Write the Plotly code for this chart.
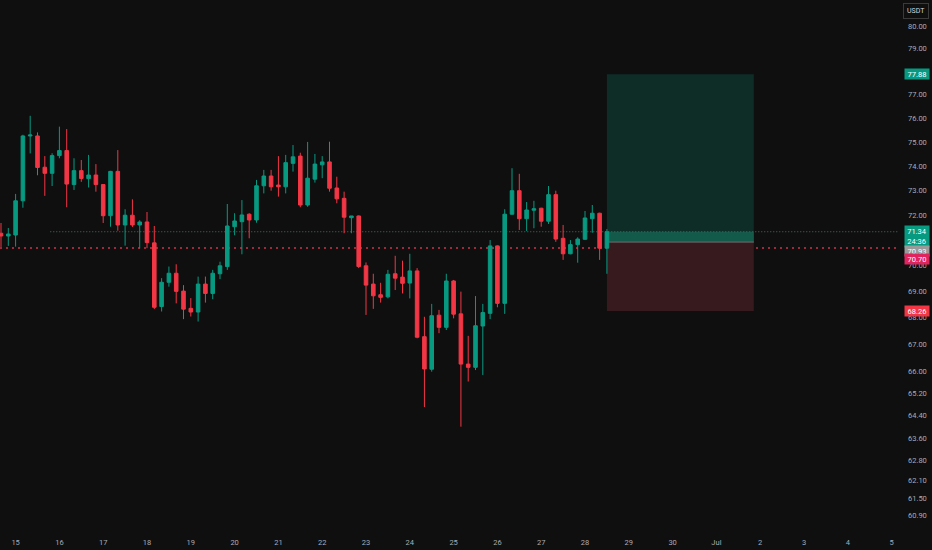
import numpy as np
import pandas as pd
import plotly.graph_objects as go

# 4h candles, 14 Jun 16:00 -> 28 Jun 12:00
times = pd.date_range("2024-06-14 16:00", periods=84, freq="4h")

opens = [71.28, 71.17, 71.21, 72.58, 75.25, 75.25, 73.95, 73.70, 74.43, 74.64,
         73.24, 73.81, 73.48, 73.63, 73.24, 71.98, 73.78, 71.61, 72.00, 71.61,
         71.73, 70.90, 68.43, 69.36, 69.71, 69.02, 68.36, 68.22, 69.29, 68.93,
         69.69, 69.97, 71.54, 71.74, 72.04, 71.81, 73.19, 73.59, 73.22, 73.15,
         74.11, 74.41, 72.41, 73.46, 74.05, 74.17, 73.10, 72.68, 71.90, 71.97,
         70.00, 69.29, 68.88, 68.80, 69.69, 69.56, 69.33, 69.80, 67.29, 66.08,
         68.10, 67.64, 69.41, 68.15, 66.27, 66.15, 67.69, 68.17, 70.78, 68.55,
         72.04, 72.99, 71.86, 72.20, 72.28, 71.76, 72.83, 71.08, 70.47, 70.83,
         71.04, 71.86, 72.08, 70.69]
highs = [71.69, 71.49, 72.86, 75.30, 76.10, 75.40, 74.41, 74.53, 75.64, 75.54,
         74.32, 74.25, 74.46, 74.08, 73.25, 73.80, 74.66, 72.24, 72.64, 71.80,
         72.13, 71.57, 69.52, 69.97, 70.06, 69.25, 68.75, 69.58, 69.58, 69.84,
         70.16, 72.45, 72.08, 72.61, 72.08, 73.43, 73.84, 73.84, 74.41, 74.46,
         74.87, 74.55, 75.00, 74.50, 74.41, 75.01, 73.56, 72.95, 71.97, 71.99,
         70.13, 69.69, 69.34, 69.84, 70.39, 70.20, 70.47, 69.91, 68.04, 68.53,
         68.30, 69.69, 69.45, 69.00, 67.32, 68.83, 68.53, 71.01, 70.80, 72.24,
         73.91, 73.68, 72.53, 72.58, 72.30, 73.18, 72.99, 71.61, 71.01, 71.12,
         72.17, 72.41, 72.10, 71.45]
lows = [70.74, 70.78, 70.75, 72.30, 74.52, 73.62, 72.78, 73.18, 74.32, 72.32,
        73.02, 73.35, 73.12, 72.95, 71.69, 71.54, 71.38, 70.79, 71.53, 70.68,
        70.69, 68.33, 68.24, 69.19, 68.55, 67.95, 68.05, 67.86, 68.58, 68.71,
        69.48, 69.84, 71.20, 70.45, 71.08, 71.70, 72.88, 72.99, 72.75, 72.88,
        73.77, 72.32, 72.34, 73.32, 73.50, 72.95, 72.48, 71.28, 71.28, 69.91,
        68.11, 68.34, 68.58, 68.74, 69.06, 68.93, 68.74, 67.23, 64.70, 65.99,
        67.42, 67.54, 67.98, 64.00, 65.63, 66.05, 65.87, 67.95, 68.40, 68.15,
        72.02, 71.41, 71.37, 71.48, 71.54, 71.65, 70.94, 70.23, 70.45, 70.12,
        71.01, 71.30, 70.23, 69.69]
closes = [71.17, 71.25, 72.58, 75.25, 75.29, 73.94, 73.70, 74.43, 74.64, 73.26,
          73.81, 73.49, 73.63, 73.24, 71.98, 73.78, 71.61, 72.00, 71.61, 71.73,
          70.91, 68.40, 69.36, 69.71, 69.01, 68.33, 68.22, 69.29, 68.93, 69.71,
          70.00, 71.57, 71.77, 72.01, 71.81, 73.19, 73.59, 73.15, 73.15, 74.14,
          74.38, 72.41, 73.50, 74.08, 74.17, 73.09, 72.66, 71.92, 71.97, 69.97,
          69.25, 68.84, 68.78, 69.67, 69.52, 69.32, 69.80, 67.27, 66.09, 68.08,
          67.64, 69.41, 68.14, 66.27, 66.15, 67.70, 68.20, 70.78, 68.55, 72.04,
          72.99, 71.86, 72.21, 72.26, 71.76, 72.83, 71.05, 70.47, 70.83, 71.05,
          71.89, 72.08, 70.69, 71.34]

# long position tool
entry_price = 70.93
target_price = 77.88
stop_price = 68.26
last_price = 71.34
alert_price = 70.70
box_start = "2024-06-28 12:00"
box_end = "2024-07-01 20:30"

price_ticks = [60.9, 61.5, 62.1, 62.8, 63.6, 64.4, 65.2, 66, 67, 68, 69, 70,
               72, 73, 74, 75, 76, 77, 79, 80]
day_ticks = pd.date_range("2024-06-15", "2024-07-05", freq="D")
day_labels = ["Jul" if d.day == 1 else str(d.day) for d in day_ticks]

BG = "#0f0f0f"
UP = "#089981"
DOWN = "#f23645"
TXT = "#a9acb4"
FONT = "Roboto"

fig = go.Figure()

fig.add_trace(go.Candlestick(
    x=times, open=opens, high=highs, low=lows, close=closes,
    increasing=dict(line=dict(color=UP, width=1), fillcolor=UP),
    decreasing=dict(line=dict(color=DOWN, width=1), fillcolor=DOWN),
    whiskerwidth=0, hoverinfo="skip", showlegend=False,
))

shapes = [
    # target zone
    dict(type="rect", xref="x", yref="y", x0=box_start, x1=box_end,
         y0=entry_price, y1=target_price, fillcolor="#0f2d27", line_width=0,
         layer="below"),
    # stop zone
    dict(type="rect", xref="x", yref="y", x0=box_start, x1=box_end,
         y0=stop_price, y1=entry_price, fillcolor="#361a1e", line_width=0,
         layer="below"),
    # open P&L band
    dict(type="rect", xref="x", yref="y", x0=box_start, x1=box_end,
         y0=entry_price, y1=last_price, fillcolor="#135a4a", line_width=0,
         layer="below"),
    # entry line
    dict(type="line", xref="x", yref="y", x0=box_start, x1=box_end,
         y0=entry_price, y1=entry_price, line=dict(color="#6f6f6f", width=1),
         layer="below"),
    # last price line
    dict(type="line", xref="x", yref="y", x0="2024-06-15 19:00", x1="2024-07-06",
         y0=last_price, y1=last_price,
         line=dict(color="#4e6e66", width=1, dash="1px,2px"), layer="below"),
    # alert line
    dict(type="line", xref="paper", yref="y", x0=0, x1=1,
         y0=alert_price, y1=alert_price,
         line=dict(color="#d0324c", width=1.5, dash="2px,4px"), layer="below"),
]

annotations = [
    dict(xref="paper", yref="paper", x=1.0206, y=0.979, xanchor="center",
         yanchor="middle", text="USDT", showarrow=False,
         font=dict(color="#d1d4dc", size=7, family=FONT),
         bordercolor="#3a3a3a", borderwidth=1, borderpad=3, bgcolor=BG),
]


def price_label(value, text, color, shift=0, height=8):
    return dict(xref="paper", yref="y", x=1.0065, y=np.log10(value),
                xanchor="left", yanchor="middle", text=text, showarrow=False,
                font=dict(color="white", size=7.5, family=FONT), bgcolor=color,
                borderpad=1, width=22, height=height, align="center",
                valign="middle", yshift=shift)


annotations += [
    price_label(target_price, f"{target_price:.2f}", UP),
    price_label(last_price, f"{last_price:.2f}<br>24:36", UP, shift=-4.8,
                height=19),
    price_label(entry_price, f"{entry_price:.2f}", "#9a9a9a", shift=-8.8),
    price_label(alert_price, f"{alert_price:.2f}", "#e0245e", shift=-11.2),
    price_label(stop_price, f"{stop_price:.2f}", DOWN),
]

fig.update_layout(
    width=932, height=550,
    margin=dict(l=0, r=34, t=0, b=20),
    paper_bgcolor=BG, plot_bgcolor=BG,
    shapes=shapes, annotations=annotations,
    showlegend=False,
    font=dict(family=FONT, color=TXT, size=7.5),
    xaxis=dict(
        type="date", range=["2024-06-14 15:27", "2024-07-05 03:30"],
        rangeslider=dict(visible=False), showgrid=False, zeroline=False,
        showline=False, ticks="", tickvals=day_ticks, ticktext=day_labels,
        tickfont=dict(color=TXT, size=7.5, family=FONT), ticklabelstandoff=6,
    ),
    yaxis=dict(
        type="log", side="right",
        range=[np.log10(60.42), np.log10(81.17)],
        showgrid=False, zeroline=False, showline=False, ticks="",
        tickvals=price_ticks, ticktext=[f"{v:.2f}" for v in price_ticks],
        tickfont=dict(color=TXT, size=7.5, family=FONT), ticklabelstandoff=9,
    ),
)

# page margin off so the chart fills the window
fig.write_html(
    "out.html",
    config={"displayModeBar": False},
    post_script="document.body.style.margin='0';"
                "document.body.style.background='#0f0f0f';",
)
